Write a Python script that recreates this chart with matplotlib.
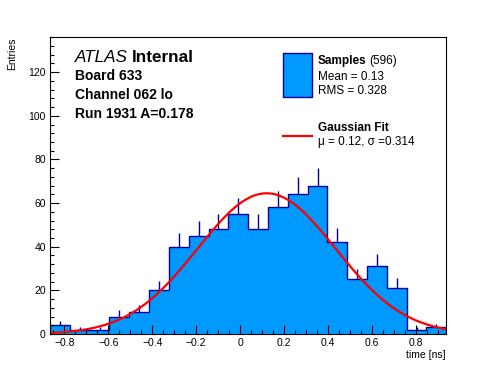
import numpy as np
import matplotlib
matplotlib.use('Agg')
import matplotlib.pyplot as plt
from matplotlib.ticker import MultipleLocator

# histogram contents
x_min, x_max = -0.865, 0.937
counts = [4, 2, 2, 8, 10, 20, 40, 45, 48, 55, 48, 58, 64, 68, 42, 25, 31, 21, 2, 3]

# gaussian fit result
fit_amp = 64.5
fit_mu = 0.12
fit_sigma = 0.314

board_lines = ['Board 633', 'Channel 062 lo', 'Run 1931 A=0.178']
n_entries = 596
mean_txt = 'Mean = 0.13'
rms_txt = 'RMS = 0.328'
fit_txt = '\u03bc = 0.12, \u03c3 =0.314'

plt.rcParams['font.family'] = ['Liberation Sans', 'DejaVu Sans']

fill_col = '#0099ff'
edge_col = '#000099'

fig = plt.figure(figsize=(4.96, 3.72), dpi=100)
ax = fig.add_axes([0.1008, 0.1022, 0.7990, 0.7975])

counts = np.array(counts, dtype=float)
edges = np.linspace(x_min, x_max, len(counts) + 1)
centers = 0.5 * (edges[:-1] + edges[1:])

ax.stairs(counts, edges, fill=True, color=fill_col, lw=0)
ax.stairs(counts, edges, color=edge_col, lw=1.0)
# error bars, only the upper half shows above the fill
ax.vlines(centers, counts, counts + np.sqrt(counts), color=edge_col, lw=1.0)

xf = np.linspace(x_min, x_max, 400)
yf = fit_amp * np.exp(-0.5 * ((xf - fit_mu) / fit_sigma) ** 2)
ax.plot(xf, yf, color='#ff0000', lw=1.6)

ax.set_xlim(x_min, x_max)
ax.set_ylim(0, 136)
ax.xaxis.set_major_locator(MultipleLocator(0.2))
ax.xaxis.set_minor_locator(MultipleLocator(0.05))
ax.yaxis.set_major_locator(MultipleLocator(20))
ax.yaxis.set_minor_locator(MultipleLocator(4))
ax.tick_params(which='both', direction='in', top=False, right=False,
               labelsize=7.5, width=0.8)
ax.tick_params(which='major', length=6.5)
ax.tick_params(which='minor', length=3.2)
ax.tick_params(axis='x', pad=3)
ax.tick_params(axis='y', pad=3)
ax.xaxis.set_major_formatter(plt.FuncFormatter(
    lambda v, p: ('%g' % round(v, 2)).replace('-', '\u2212')))
for s in ax.spines.values():
    s.set_linewidth(0.8)

fig.text(12 / 496, 1 - 37 / 372, 'Entries', rotation=90, ha='center',
         va='top', fontsize=7.5)
fig.text(446 / 496, 1 - 355 / 372, 'time [ns]', ha='right', va='center',
         fontsize=7.5)

# ATLAS label block
t = fig.text(75 / 496, 1 - 57 / 372, 'ATLAS', style='italic', fontsize=12.3,
             va='center')
fig.canvas.draw()
bb = t.get_window_extent()
fig.text((bb.x1 + 4) / 496, 1 - 57 / 372, 'Internal', weight='bold',
         fontsize=12.3, va='center')
for i, line in enumerate(board_lines):
    fig.text(75 / 496, 1 - (76 + 19 * i) / 372, line, weight='bold',
             fontsize=10, va='center')

# legend drawn by hand to follow the ROOT layout
leg_box = plt.Rectangle((283 / 496, 1 - 97 / 372), 29 / 496, 44 / 372,
                        transform=fig.transFigure, facecolor=fill_col,
                        edgecolor=edge_col, lw=1.0)
fig.add_artist(leg_box)
t = fig.text(318 / 496, 1 - 61 / 372, 'Samples', weight='bold', fontsize=8.5,
             va='center')
fig.canvas.draw()
bb = t.get_window_extent()
fig.text((bb.x1 + 3) / 496, 1 - 61 / 372, '(%d)' % n_entries, fontsize=8.5,
         va='center')
fig.text(318 / 496, 1 - 77 / 372, mean_txt, fontsize=8.5, va='center')
fig.text(318 / 496, 1 - 91 / 372, rms_txt, fontsize=8.5, va='center')
fig.add_artist(plt.Line2D([283 / 496, 312 / 496], [1 - 136 / 372, 1 - 136 / 372],
                          transform=fig.transFigure, color='#ff0000', lw=1.6))
fig.text(318 / 496, 1 - 128 / 372, 'Gaussian Fit', weight='bold', fontsize=8.5,
         va='center')
fig.text(318 / 496, 1 - 142 / 372, fit_txt, fontsize=8.5, va='center')

fig.savefig('out.png', dpi=100)
